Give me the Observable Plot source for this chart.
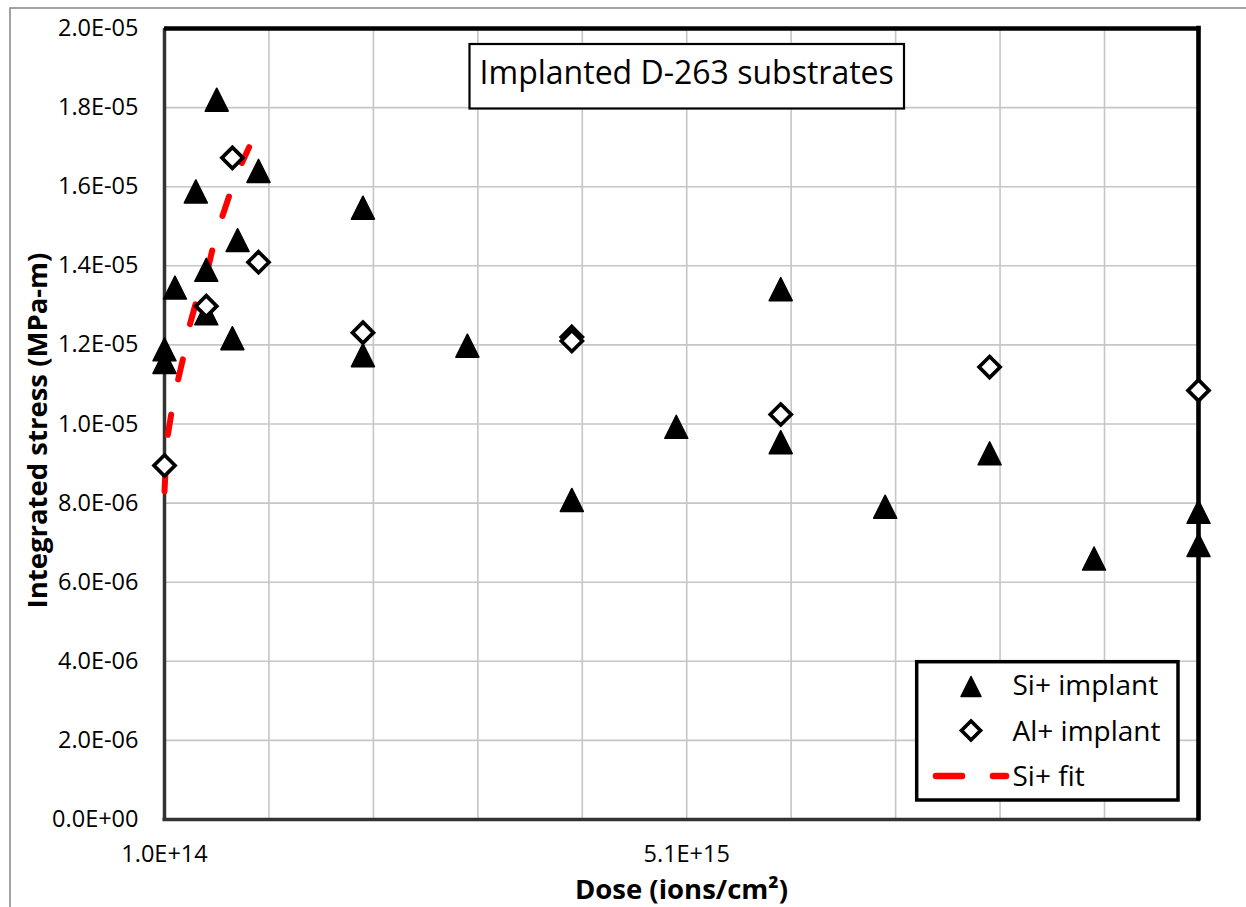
<!DOCTYPE html>
<html>
<head>
<meta charset="utf-8">
<script src="https://cdn.jsdelivr.net/npm/d3@7"></script>
<script src="https://cdn.jsdelivr.net/npm/@observablehq/plot@0.6"></script>
<style>
  html, body { margin: 0; padding: 0; background: #fff; overflow: hidden; }
  #chart svg { display: block; overflow: hidden; }
</style>
</head>
<body>
<div id="chart"></div>
<script>
// Si+ implanted samples: dose (ions/cm²) and integrated stress (MPa-m)
const siDose = [1e14, 1e14, 2e14, 4e14, 6e14, 5e14, 5e14, 8e14, 7.5e14, 1e15, 2e15, 2e15,
                3e15, 4e15, 5e15, 6e15, 6e15, 7e15, 8e15, 9e15, 1e16, 1e16];
const siStress = [1.189e-5, 1.157e-5, 1.345e-5, 1.588e-5, 1.82e-5, 1.39e-5, 1.28e-5, 1.465e-5, 1.217e-5, 1.64e-5, 1.547e-5, 1.174e-5,
                  1.198e-5, 8.08e-6, 9.93e-6, 1.341e-5, 9.54e-6, 7.91e-6, 9.26e-6, 6.6e-6, 7.78e-6, 6.94e-6];

// Al+ implanted samples
const alDose = [1e14, 5e14, 7.5e14, 1e15, 2e15, 4e15, 4e15, 6e15, 8e15, 1e16];
const alStress = [8.95e-6, 1.298e-5, 1.673e-5, 1.409e-5, 1.231e-5, 1.22e-5, 1.21e-5, 1.024e-5, 1.144e-5, 1.085e-5];

// Si+ fit curve over the low-dose range
const fitDose = [1.0e14, 1.24e14, 1.67e14, 2.22e14, 2.79e14, 3.33e14, 3.97e14, 5.09e14, 5.57e14, 6.36e14, 7.16e14, 8.18e14, 9.1e14];
const fitStress = [8.3e-6, 9.59e-6, 1.029e-5, 1.103e-5, 1.167e-5, 1.242e-5, 1.303e-5, 1.385e-5, 1.439e-5, 1.511e-5, 1.574e-5, 1.647e-5, 1.70e-5];

// Axis ticks and gridlines
const yTicks = [0, 2e-6, 4e-6, 6e-6, 8e-6, 1e-5, 1.2e-5, 1.4e-5, 1.6e-5, 1.8e-5, 2e-5];
const xGridDose = [1.1e15, 2.1e15, 3.1e15, 4.1e15, 5.1e15, 6.1e15, 7.1e15, 8.1e15, 9.1e15];
const xLabelDose = [1e14, 5.1e15];
const xDomain = [1e14, 1e16];
const yDomain = [0, 2e-5];

// Text
const seriesNames = ["Si+ implant", "Al+ implant", "Si+ fit"];
const chartTitle = "Implanted D-263 substrates";
const xTitle = "Dose (ions/cm²)";
const yTitle = "Integrated stress (MPa-m)";

// Spreadsheet-style scientific notation: 2.0E-05
const sci = v => {
  const [m, e] = v.toExponential(1).split("e");
  return `${m}E${e[0]}${e.slice(1).padStart(2, "0")}`;
};

// Marker shapes (size = πr²)
const triangle = {
  draw(ctx, size) {
    const r = Math.sqrt(size / Math.PI);
    ctx.moveTo(0, -r); ctx.lineTo(r, r); ctx.lineTo(-r, r); ctx.closePath();
  }
};
const diamond = {
  draw(ctx, size) {
    const r = Math.sqrt(size / Math.PI);
    ctx.moveTo(0, -r); ctx.lineTo(r, 0); ctx.lineTo(0, r); ctx.lineTo(-r, 0); ctx.closePath();
  }
};

const siData = siDose.map((d, i) => ({dose: d, stress: siStress[i]}));
const alData = alDose.map((d, i) => ({dose: d, stress: alStress[i]}));
const fitData = fitDose.map((d, i) => ({dose: d, stress: fitStress[i]}));

const font = "'Open Sans', sans-serif";
const gridColor = "#c6c6c6";

const chart = Plot.plot({
  width: 1246,
  height: 907,
  marginLeft: 164,
  marginRight: 48,
  marginTop: 28,
  marginBottom: 88,
  style: {fontFamily: font, fontSize: "23.5px", background: "#fff", color: "#000"},
  x: {type: "linear", domain: xDomain},
  y: {type: "linear", domain: yDomain},
  marks: [
    Plot.gridX(xGridDose, {stroke: gridColor, strokeOpacity: 1, strokeWidth: 1.6}),
    Plot.gridY(yTicks, {stroke: gridColor, strokeOpacity: 1, strokeWidth: 1.6}),
    Plot.axisY(yTicks, {tickSize: 0, tickPadding: 26, tickFormat: sci, fontSize: 23.5, label: null}),
    Plot.axisX(xLabelDose, {tickSize: 0, tickPadding: 26, tickFormat: sci, fontSize: 23.5, label: null}),
    // plot area frame: dark left/bottom axes, heavy black top/right border
    Plot.ruleX([xDomain[0]], {stroke: "#333", strokeWidth: 3.5, insetBottom: -1.5}),
    Plot.ruleY([yDomain[0]], {stroke: "#333", strokeWidth: 3.5, insetLeft: -1.5, insetRight: -2}),
    Plot.ruleY([yDomain[1]], {stroke: "#000", strokeWidth: 4.6, insetRight: -2.3}),
    Plot.ruleX([xDomain[1]], {stroke: "#000", strokeWidth: 4.6, insetTop: -2.3, insetBottom: -1.5}),
    // fit line
    Plot.line(fitData, {x: "dose", y: "stress", stroke: "#ff0000", strokeWidth: 6,
      strokeDasharray: "20.5,36", strokeLinecap: "round", strokeLinejoin: "round"}),
    // measurements
    Plot.dot(siData, {x: "dose", y: "stress", symbol: triangle, r: 11.5, fill: "#000",
      stroke: "#000", strokeWidth: 1.5, strokeLinejoin: "round"}),
    Plot.dot(alData, {x: "dose", y: "stress", symbol: diamond, r: 10.5, fill: "#fff",
      stroke: "#000", strokeWidth: 3.7, strokeLinejoin: "miter"})
  ]
});

document.getElementById("chart").appendChild(chart);

const svg = d3.select(chart);

// outer chart-area border
svg.insert("rect", ":first-child")
  .attr("x", 10).attr("y", 8).attr("width", 1260).attr("height", 940)
  .attr("fill", "none").attr("stroke", "#8c8c8c").attr("stroke-width", 1.6);

// chart title box
const tg = svg.append("g");
tg.append("rect")
  .attr("x", 469.5).attr("y", 44).attr("width", 434.5).attr("height", 64.5)
  .attr("fill", "#fff").attr("stroke", "#000").attr("stroke-width", 2.2);
tg.append("text")
  .attr("x", 686.7).attr("y", 83.5).attr("text-anchor", "middle")
  .attr("font-family", font).attr("font-size", 32).attr("fill", "#000")
  .text(chartTitle);

// axis titles
svg.append("text")
  .attr("x", 681.5).attr("y", 899).attr("text-anchor", "middle")
  .attr("font-family", font).attr("font-size", 27.5).attr("font-weight", "bold").attr("fill", "#000")
  .text(xTitle);
svg.append("text")
  .attr("transform", "translate(46.5,430.5) rotate(-90)").attr("text-anchor", "middle")
  .attr("font-family", font).attr("font-size", 27.5).attr("font-weight", "bold").attr("fill", "#000")
  .text(yTitle);

// legend
const lg = svg.append("g");
lg.append("rect")
  .attr("x", 916.7).attr("y", 661.7).attr("width", 261.3).attr("height", 138.3)
  .attr("fill", "#fff").attr("stroke", "#000").attr("stroke-width", 3.5);
const sym = (type, r) => d3.symbol().type(type).size(Math.PI * r * r)();
lg.append("path").attr("d", sym(triangle, 10)).attr("transform", "translate(971,686.5)")
  .attr("fill", "#000").attr("stroke", "#000").attr("stroke-width", 1.5).attr("stroke-linejoin", "round");
lg.append("path").attr("d", sym(diamond, 9.5)).attr("transform", "translate(971,730.5)")
  .attr("fill", "#fff").attr("stroke", "#000").attr("stroke-width", 3.7);
lg.append("line")
  .attr("x1", 936).attr("x2", 1006).attr("y1", 776).attr("y2", 776)
  .attr("stroke", "#ff0000").attr("stroke-width", 6.5).attr("stroke-linecap", "round")
  .attr("stroke-dasharray", "26,31");
const baselines = [695, 740.5, 786];
seriesNames.forEach((name, i) => {
  lg.append("text")
    .attr("x", 1012.5).attr("y", baselines[i]).attr("text-anchor", "start")
    .attr("font-family", font).attr("font-size", 28).attr("fill", "#000")
    .text(name);
});
</script>
</body>
</html>
